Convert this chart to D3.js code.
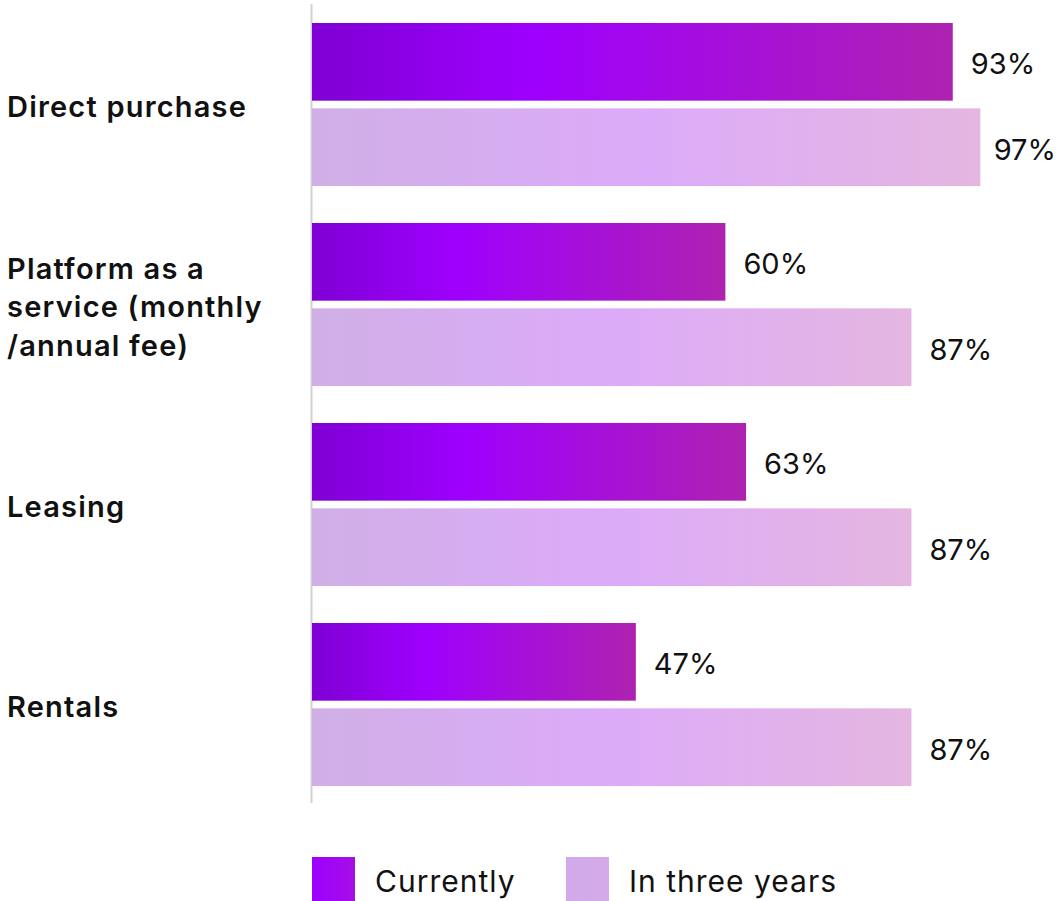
<!DOCTYPE html>
<html><head><meta charset="utf-8">
<script src="https://cdn.jsdelivr.net/npm/d3@7"></script>
<style>body{margin:0;background:#fff;} text{font-family:Inter,"Noto Sans",sans-serif;}</style>
</head><body>
<svg id="c" width="1058" height="901"></svg>
<script>
const categories = ["Direct purchase", "Platform as a service (monthly /annual fee)", "Leasing", "Rentals"];
const categoryLines = [["Direct purchase"], ["Platform as a", "service (monthly", "/annual fee)"], ["Leasing"], ["Rentals"]];
const currently = [93, 60, 63, 47];
const inThreeYears = [97, 87, 87, 87];
const seriesNames = ["Currently", "In three years"];

const W = 1058;
const svg = d3.select("#c");
const defs = svg.append("defs");
function grad(id, stops){
  const g = defs.append("linearGradient").attr("id",id).attr("x1","0").attr("x2","1").attr("y1","0").attr("y2","0");
  stops.forEach(([o,c])=>g.append("stop").attr("offset",o).attr("stop-color",c));
}
grad("gCur", [[0,"#7f00d4"],[0.35,"#9e00fe"],[1,"#ae22b0"]]);
grad("gFut", [[0,"#d0afe6"],[0.5,"#dcabf9"],[1,"#e4b6e0"]]);
grad("lCur", [[0,"#9c00ff"],[1,"#a60ee6"]]);
grad("lFut", [[0,"#d2a9ea"],[1,"#d4aae8"]]);

const x = d3.scaleLinear().domain([0,100]).range([312, 1001]);
const y0 = d3.scaleBand().domain(categories).range([5, 805]).paddingInner(0).paddingOuter(0);
const inner = d3.scaleBand().domain(seriesNames).range([18, 181]).paddingInner(0.09);

svg.append("line").attr("x1",311.5).attr("x2",311.5).attr("y1",4).attr("y2",803)
  .attr("stroke","#d2d2d2").attr("stroke-width",2);

const data = [currently, inThreeYears];
const fills = ["url(#gCur)","url(#gFut)"];
categories.forEach((cat,i)=>{
  const gy = y0(cat);
  seriesNames.forEach((s,j)=>{
    const v = data[j][i];
    svg.append("rect").attr("x",x(0)).attr("y",gy+inner(s)).attr("width",x(v)-x(0)).attr("height",inner.bandwidth())
      .attr("fill",fills[j]);
    const t = svg.append("text").attr("x",x(v)+18).attr("y",gy+inner(s)+inner.bandwidth()/2+12.5)
      .attr("font-size",29).attr("fill","#111").text(v+"%");
    const bb = t.node().getBBox();
    if (bb.x + bb.width > W - 2) t.attr("x", W - 2 - bb.width);
  });
  const lines = categoryLines[i];
  const cy = gy + 99.5;
  const lh = 38.5;
  const t = svg.append("text").attr("x",7).attr("font-size",29).attr("font-weight",600)
    .attr("letter-spacing","1.2px").attr("fill","#111");
  lines.forEach((ln,k)=>{
    t.append("tspan").attr("x",7).attr("y", cy + 12.5 + (k-(lines.length-1)/2)*lh).text(ln);
  });
});

// legend
const leg = [{x:312, name:seriesNames[0], fill:"url(#lCur)"},{x:566, name:seriesNames[1], fill:"url(#lFut)"}];
leg.forEach(l=>{
  svg.append("rect").attr("x",l.x).attr("y",857).attr("width",43).attr("height",44).attr("fill",l.fill);
  svg.append("text").attr("x",l.x+63).attr("y",892).attr("font-size",30).attr("letter-spacing","1px")
    .attr("fill","#111").text(l.name);
});
</script>
</body></html>
